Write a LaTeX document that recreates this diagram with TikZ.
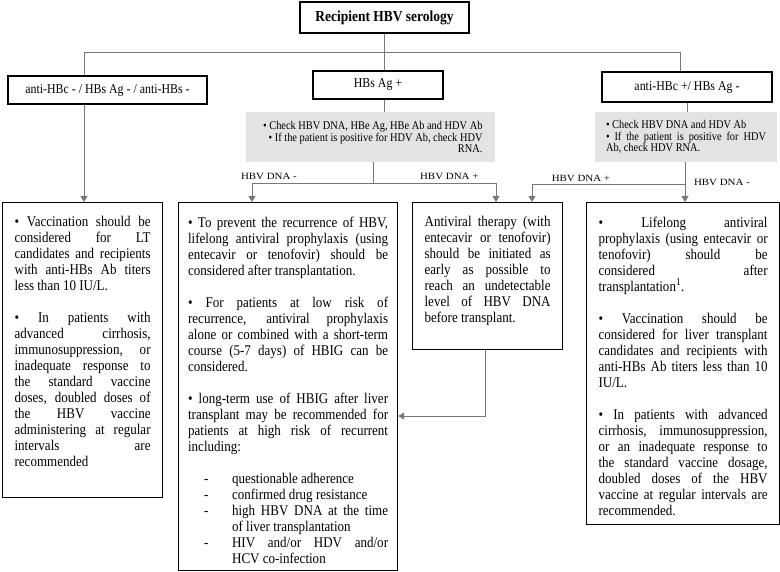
\documentclass[tikz,border=0pt]{standalone}
\usepackage{fontspec}
\setmainfont{Liberation Serif}[FakeStretch=0.88]
\newfontfamily\labelfont{Liberation Serif}[FakeStretch=1.15]
\usetikzlibrary{arrows.meta}
\definecolor{panel}{gray}{0.89}
\definecolor{wire}{gray}{0.47}
\hbadness=10000
\tolerance=10000
\newcommand{\boxtext}[3]{\parbox[t][#1][t]{#2}{#3}}
\tikzset{
  head/.style={draw, line width=1.2pt, inner sep=0pt, font=\fontsize{13.5}{15}\selectfont},
  check/.style={fill=panel, inner sep=0pt, font=\fontsize{11.8}{11.3}\selectfont},
  txtbox/.style={draw, line width=1.2pt, anchor=north west, inner xsep=12pt, inner ysep=14pt, font=\fontsize{14.8}{16}\selectfont},
  link/.style={draw=wire, line width=1pt},
  arrowline/.style={link, -{Triangle[width=7pt,length=6pt]}},
  lbl/.style={font=\labelfont\fontsize{9.5}{11}\selectfont, inner sep=1.5pt}
}

\begin{document}
\begin{tikzpicture}[x=1pt, y=-1pt]
\useasboundingbox (0,0) rectangle (780,572);

\node[head, line width=1.5pt, minimum width=169pt, minimum height=31pt, font=\bfseries\fontsize{15.3}{16}\selectfont] (top) at (384.5,17.5) {Recipient HBV serology};
\node[head, minimum width=199pt, minimum height=28pt] (neg) at (107.5,90) {anti-HBc - / HBs Ag - / anti-HBs -};
\node[head, minimum width=130pt, minimum height=28pt] (pos) at (378,85) {HBs Ag +};
\node[head, minimum width=170pt, minimum height=30pt] (core) at (687,87) {anti-HBc +/ HBs Ag -};

\node[check, minimum width=249pt, minimum height=50pt] (grayA) at (370.5,137) {\parbox{224pt}{\raggedleft \textbullet{} Check HBV DNA, HBe Ag, HBe Ab and HDV Ab\\ \textbullet{} If the patient is positive for HDV Ab, check HDV\\ RNA.}};
\node[check, minimum width=182pt, minimum height=50pt] (grayB) at (686,137) {\parbox{160pt}{\textbullet{} Check HBV DNA and HDV Ab\par \textbullet{} If the patient is positive for HDV\linebreak Ab, check HDV RNA.}};

\node[txtbox] (boxL) at (2,202) {\boxtext{267pt}{136pt}{%
\textbullet{} Vaccination should be\linebreak considered for LT\linebreak candidates and recipients\linebreak with anti-HBs Ab titers\linebreak less than 10 IU/L.\par\vspace{16pt}
\textbullet{} In patients with\linebreak advanced cirrhosis,\linebreak immunosuppression, or\linebreak inadequate response to\linebreak the standard vaccine\linebreak doses, doubled doses of\linebreak the HBV vaccine\linebreak administering at regular\linebreak intervals are\linebreak recommended}};

\node[txtbox, inner xsep=9.5pt] (boxM) at (178,202) {\boxtext{340pt}{200pt}{%
\textbullet{} To prevent the recurrence of HBV,\linebreak lifelong antiviral prophylaxis (using\linebreak entecavir or tenofovir) should be\linebreak considered after transplantation.\par\vspace{16pt}
\textbullet{} For patients at low risk of\linebreak recurrence, antiviral prophylaxis\linebreak alone or combined with a short-term\linebreak course (5-7 days) of HBIG can be\linebreak considered.\par\vspace{16pt}
\textbullet{} long-term use of HBIG after liver\linebreak transplant may be recommended for\linebreak patients at high risk of recurrent\linebreak including:\par\vspace{16pt}
\noindent\hangindent=44pt\hangafter=1\hspace*{16pt}\makebox[28pt][l]{-}questionable adherence\par
\noindent\hangindent=44pt\hangafter=1\hspace*{16pt}\makebox[28pt][l]{-}confirmed drug resistance\par
\noindent\hangindent=44pt\hangafter=1\hspace*{16pt}\makebox[28pt][l]{-}high HBV DNA at the time\linebreak of liver transplantation\par
\noindent\hangindent=44pt\hangafter=1\hspace*{16pt}\makebox[28pt][l]{-}HIV and/or HDV and/or\linebreak HCV co-infection}};

\node[txtbox] (boxA) at (412,202) {\boxtext{119pt}{126pt}{%
Antiviral therapy (with\linebreak entecavir or tenofovir)\linebreak should be initiated as\linebreak early as possible to\linebreak reach an undetectable\linebreak level of HBV DNA\linebreak before transplant.}};

\node[txtbox] (boxR) at (586,202) {\boxtext{294pt}{169pt}{%
\textbullet{} Lifelong antiviral\linebreak prophylaxis (using entecavir or\linebreak tenofovir) should be\linebreak considered after\linebreak transplantation\textsuperscript{1}.\par\vspace{16pt}
\textbullet{} Vaccination should be\linebreak considered for liver transplant\linebreak candidates and recipients with\linebreak anti-HBs Ab titers less than 10\linebreak IU/L.\par\vspace{16pt}
\textbullet{} In patients with advanced\linebreak cirrhosis, immunosuppression,\linebreak or an inadequate response to\linebreak the standard vaccine dosage,\linebreak doubled doses of the HBV\linebreak vaccine at regular intervals are\linebreak recommended.}};

\coordinate (busL) at (84,53);
\coordinate (busR) at (680,53);
\coordinate (splitA) at (373,184);
\coordinate (dnaNeg) at (252,184);
\coordinate (dnaPos) at (496,184);
\coordinate (splitB) at (685,185);
\coordinate (backA) at (532,185);
\coordinate (outA) at (485,416);

\draw[link] (top.south) |- (busL) -- (busL |- neg.north);
\draw[link] (top.south) |- (busR) -- (busR |- core.north);
\draw[link] (top.south) -- (top.south |- pos.north);
\draw[arrowline] (busL |- neg.south) -- (busL |- boxL.north);

\draw[link] (top.south |- pos.south) -- (top.south |- grayA.north);
\draw[link] (splitA |- grayA.south) -- (splitA);
\draw[arrowline] (splitA) -- node[lbl, above=2pt, pos=0.86] {HBV DNA -} (dnaNeg) -- (dnaNeg |- boxM.north);
\draw[arrowline] (splitA) -- node[lbl, above=2pt, pos=0.62] {HBV DNA +} (dnaPos) -- (dnaPos |- boxA.north);

\draw[link] (core.south) -- (core.south |- grayB.north);
\draw[arrowline] (splitB |- grayB.south) -- node[lbl, right=7pt, pos=0.52] {HBV DNA -} (splitB |- boxR.north);
\draw[arrowline] (splitB) -- node[lbl, above=1pt, pos=0.68] {HBV DNA +} (backA) -- (backA |- boxA.north);

\draw[arrowline] (outA |- boxA.south) |- (boxM.east |- outA);
\end{tikzpicture}
\end{document}
